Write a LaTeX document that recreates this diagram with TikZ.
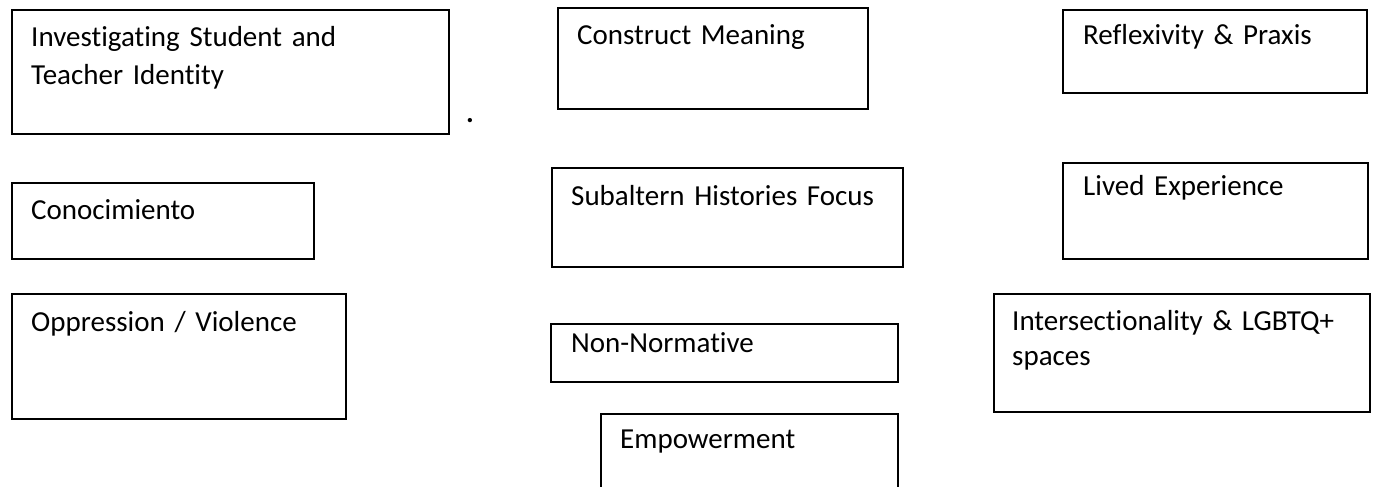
\documentclass[tikz,border=0pt]{standalone}
\usepackage{fontspec}
\setmainfont{Carlito}[Ligatures=NoCommon]
\usetikzlibrary{calc}

\begin{document}
\begin{tikzpicture}[x=1pt,y=-1pt,
    conceptbox/.style={draw=black, line width=1.6pt, inner sep=0pt, anchor=north west},
    boxlabel/.style={inner sep=0pt, anchor=base west, text width=390pt, align=left,
        font=\fontsize{29}{38}\selectfont}]

                \clip (0,0) rectangle (1374,487);
                \fill[white] (0,0) rectangle (1374,487);

                % left column
                \node[conceptbox, minimum width=437pt, minimum height=124pt] (identity) at (11,9) {};
                \node[boxlabel] (identitytext) at ($(identity.north west)+(20,38)$) {Investigating Student and\\Teacher Identity};
                \node[conceptbox, minimum width=302pt, minimum height=76pt] (conocimiento) at (11,182) {};
                \node[boxlabel] (conocimientotext) at ($(conocimiento.north west)+(20,37)$) {Conocimiento};
                \node[conceptbox, minimum width=334pt, minimum height=125pt] (oppression) at (11,293) {};
                \node[boxlabel] (oppressiontext) at ($(oppression.north west)+(20,38)$) {Oppression / Violence};
                \node[inner sep=0pt, anchor=base west, font=\fontsize{29}{38}\selectfont\bfseries] (stray) at (466,122) {.};

                % middle column
                \node[conceptbox, minimum width=310pt, minimum height=101pt] (meaning) at (557,7) {};
                \node[boxlabel] (meaningtext) at ($(meaning.north west)+(20,38)$) {Construct Meaning};
                \node[conceptbox, minimum width=351pt, minimum height=99pt] (subaltern) at (551,167) {};
                \node[boxlabel] (subalterntext) at ($(subaltern.north west)+(20,38)$) {Subaltern Histories Focus};
                \node[conceptbox, minimum width=347pt, minimum height=58pt] (nonnormative) at (550,323) {};
                \node[boxlabel] (nonnormativetext) at ($(nonnormative.north west)+(21,29)$) {Non-Normative};
                \node[conceptbox, minimum width=297pt, minimum height=100pt] (empowerment) at (600,413) {};
                \node[boxlabel] (empowermenttext) at ($(empowerment.north west)+(20,35)$) {Empowerment};

                % right column
                \node[conceptbox, minimum width=304pt, minimum height=83pt] (reflexivity) at (1062,9) {};
                \node[boxlabel] (reflexivitytext) at ($(reflexivity.north west)+(21,36)$) {Reflexivity \& Praxis};
                \node[conceptbox, minimum width=305pt, minimum height=96pt] (lived) at (1062,162) {};
                \node[boxlabel] (livedtext) at ($(lived.north west)+(21,33)$) {Lived Experience};
                \node[conceptbox, minimum width=376pt, minimum height=118pt] (intersection) at (993,293) {};
                \node[boxlabel, font=\fontsize{29}{35}\selectfont] (intersectiontext) at ($(intersection.north west)+(19,37)$) {Intersectionality \& LGBTQ+\\spaces};

            \end{tikzpicture}
\end{document}
